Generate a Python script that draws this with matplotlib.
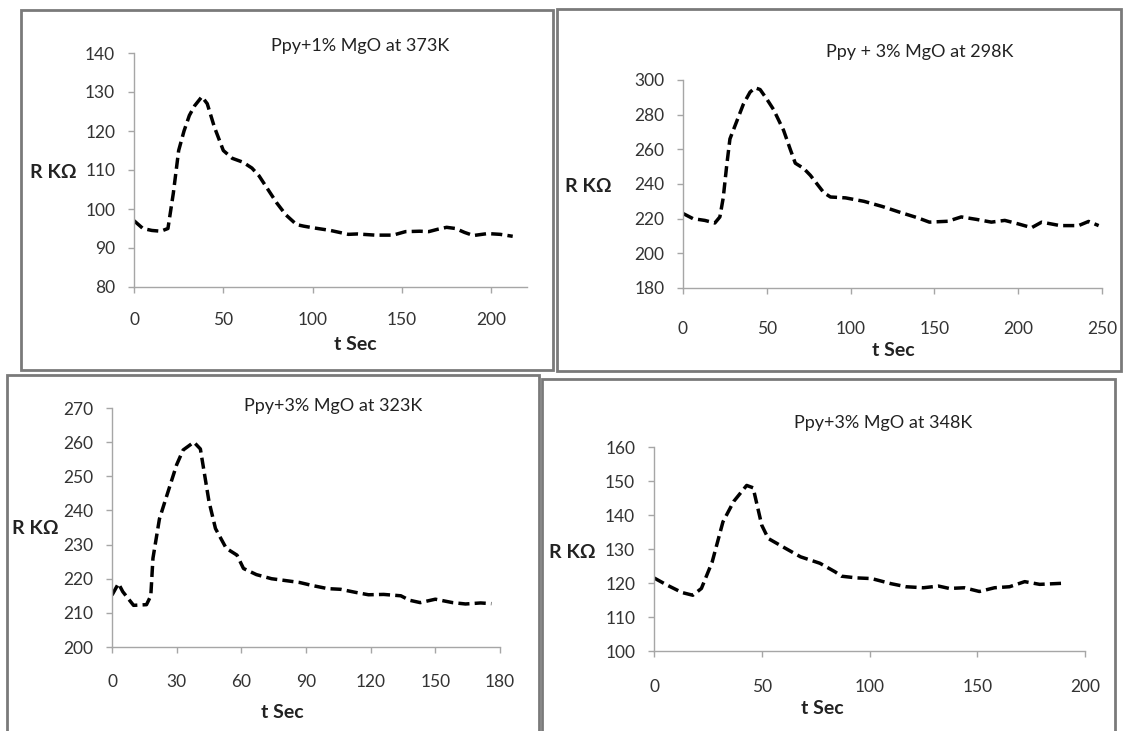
import matplotlib
matplotlib.use("Agg")
import matplotlib.pyplot as plt
from matplotlib.patches import Rectangle

plt.rcParams['font.family'] = ['Lato', 'DejaVu Sans']

W, H = 1125, 731

# panel 1: Ppy+1% MgO at 373K
t1 = [0, 5, 10, 15, 19, 22, 25, 28, 31, 34, 38, 41, 45, 50, 55, 61, 66, 70, 75, 80, 85, 91, 95, 100,
      110, 120, 125, 135, 145, 152, 160, 165, 170, 175, 180, 185, 190, 198, 205, 212]
r1 = [97, 95, 94.5, 94.3, 95, 104, 115, 120, 124, 126.5, 128.8, 127, 121, 115, 113, 112, 110.5, 108.5,
      105, 101.5, 98.5, 96, 95.6, 95.2, 94.5, 93.5, 93.6, 93.3, 93.3, 94.2, 94.3, 94.2, 94.8, 95.3, 95,
      94, 93.2, 93.7, 93.5, 93]

# panel 2: Ppy + 3% MgO at 298K
t2 = [0, 6, 13, 19, 22, 24, 26, 28, 32, 36, 40, 43, 46, 50, 54, 60, 64, 67, 72, 76, 80, 84, 88, 97,
      108, 119, 130, 140, 147, 158, 166, 175, 184, 192, 200, 208, 214, 225, 236, 242, 248]
r2 = [223, 220, 219, 217.5, 221, 232, 250, 266, 276, 286, 293, 295.5, 294.5, 289, 283, 271, 260, 252,
      249, 245, 240, 235, 232.5, 232, 230, 227, 223.5, 220.5, 218, 218.5, 221, 219.6, 218, 219, 217,
      214.8, 218, 216, 216, 218.4, 216]

# panel 3: Ppy+3% MgO at 323K
t3 = [0, 3, 5, 10, 16, 18, 19, 22, 25, 30, 33, 38, 41, 45, 48, 53, 58, 61, 67, 74, 80, 87, 93, 100,
      106, 113, 119, 126, 134, 138, 143, 150, 158, 164, 171, 176]
r3 = [215.2, 218.6, 216.2, 212.2, 212.4, 215, 226, 237.5, 243.5, 253.4, 257.7, 260, 258, 242.6, 234.7,
      228.9, 226.9, 223, 221.2, 220, 219.5, 218.9, 218, 217.1, 216.9, 216, 215.3, 215.4, 215, 213.7,
      213, 214, 213, 212.6, 212.9, 212.7]

# panel 4: Ppy+3% MgO at 348K
t4 = [0, 6, 13, 18, 22, 27, 32, 37, 43, 46, 50, 53, 61, 68, 77, 84, 87, 94, 101, 110, 117, 125, 132,
      137, 144, 151, 158, 165, 172, 179, 189]
r4 = [121.5, 119.4, 117.2, 116.4, 118.4, 126.2, 138, 144, 148.7, 148, 137, 133.1, 130.2, 127.7, 125.8,
      123.3, 122, 121.5, 121.3, 119.8, 118.9, 118.6, 119.1, 118.4, 118.6, 117.5, 118.6, 118.9, 120.4,
      119.6, 119.9]

titles = ["Ppy+1% MgO at 373K", "Ppy + 3% MgO at 298K", "Ppy+3% MgO at 323K", "Ppy+3% MgO at 348K"]

panels = [
    # frame box and axes box in pixels (x0, y0, x1, y1), text centres in pixels
    dict(t=t1, r=r1, frame=(21, 10, 553, 370), ax=(134, 53, 527, 287), xlim=(0, 220), xt=range(0, 201, 50),
         ylim=(80, 140), yt=range(80, 141, 10), title=(360, 46), xl=(355, 344), yl=(53, 172), pad=19),
    dict(t=t2, r=r2, frame=(557, 9, 1121, 371), ax=(683, 80, 1102, 288), xlim=(0, 250), xt=range(0, 251, 50),
         ylim=(180, 300), yt=range(180, 301, 20), title=(920, 52), xl=(893, 351), yl=(588, 186), pad=27),
    dict(t=t3, r=r3, frame=(7, 375, 539, 740), ax=(112, 408, 500, 647), xlim=(0, 180), xt=range(0, 181, 30),
         ylim=(200, 270), yt=range(200, 271, 10), title=(333, 406), xl=(282, 712), yl=(35, 528), pad=21),
    dict(t=t4, r=r4, frame=(542, 379, 1115, 740), ax=(654, 447, 1085, 651), xlim=(0, 200), xt=range(0, 201, 50),
         ylim=(100, 160), yt=range(100, 161, 10), title=(883, 423), xl=(822, 708), yl=(572, 552), pad=22),
]

fig = plt.figure(figsize=(W / 100, H / 100), dpi=100)

def fx(x):
    return x / W

def fy(y):
    return 1 - y / H

for i, p in enumerate(panels):
    x0, y0, x1, y1 = p['frame']
    fig.patches.append(Rectangle((fx(x0), fy(y1)), fx(x1 - x0), (y1 - y0) / H, transform=fig.transFigure,
                                 fill=False, edgecolor='#7a7a7a', lw=2, zorder=0))
    a0, b0, a1, b1 = p['ax']
    ax = fig.add_axes([fx(a0), fy(b1), fx(a1 - a0), (b1 - b0) / H])
    ax.plot(p['t'], p['r'], color='black', lw=2.5, linestyle=(0, (3.2, 1.5)))
    ax.set_xlim(*p['xlim'])
    ax.set_ylim(*p['ylim'])
    ax.set_xticks(list(p['xt']))
    ax.set_yticks(list(p['yt']))
    ax.patch.set_alpha(0)
    for s in ['top', 'right']:
        ax.spines[s].set_visible(False)
    for s in ['left', 'bottom']:
        ax.spines[s].set_color('#a6a6a6')
        ax.spines[s].set_linewidth(1)
    ax.tick_params(axis='both', direction='out', length=4, width=1, color='#a6a6a6',
                   labelsize=12.5, labelcolor='#333333')
    ax.tick_params(axis='x', pad=p['pad'] / 1.389)
    ax.tick_params(axis='y', pad=9.5)
    fig.text(fx(p['title'][0]), fy(p['title'][1]), titles[i], ha='center', va='center', fontsize=13,
             color='#222222')
    fig.text(fx(p['xl'][0]), fy(p['xl'][1]), "t Sec", ha='center', va='center', fontsize=14,
             fontweight='bold', color='#222222')
    fig.text(fx(p['yl'][0]), fy(p['yl'][1]), "R KΩ", ha='center', va='center', fontsize=14,
             fontweight='bold', color='#222222')

fig.savefig("out.png", dpi=100)
